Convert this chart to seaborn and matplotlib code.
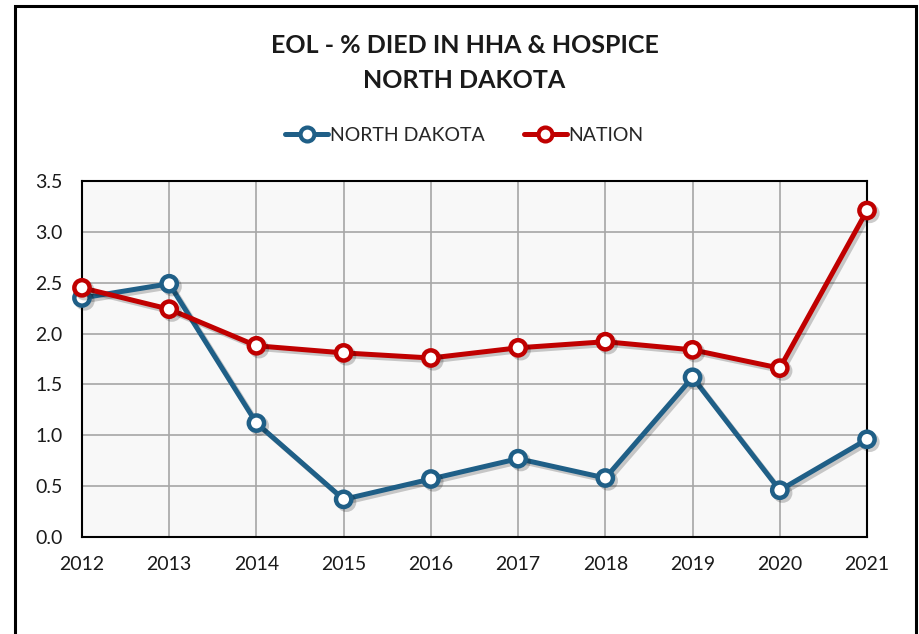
import matplotlib
matplotlib.use("Agg")
import matplotlib.pyplot as plt
import matplotlib.patheffects as pe
from matplotlib.patches import Rectangle
import pandas as pd
import seaborn as sns

years = [2012, 2013, 2014, 2015, 2016, 2017, 2018, 2019, 2020, 2021]
north_dakota = [2.35, 2.49, 1.12, 0.37, 0.57, 0.77, 0.58, 1.57, 0.46, 0.96]
nation = [2.45, 2.24, 1.88, 1.81, 1.76, 1.86, 1.92, 1.84, 1.66, 3.21]
series_names = ["NORTH DAKOTA", "NATION"]
y_ticks = [0.0, 0.5, 1.0, 1.5, 2.0, 2.5, 3.0, 3.5]

df = pd.DataFrame({
    "year": years * 2,
    "value": north_dakota + nation,
    "series": [series_names[0]] * len(years) + [series_names[1]] * len(years),
})

sns.set_style("white")
plt.rcParams["font.family"] = ["Lato", "DejaVu Sans"]

fig = plt.figure(figsize=(9.2, 6.34), dpi=100)
ax = fig.add_axes([0.0891, 0.153, 0.8533, 0.5615])
ax.set_facecolor("#f8f8f8")

palette = {"NORTH DAKOTA": "#1f5f87", "NATION": "#c00000"}
sns.lineplot(data=df, x="year", y="value", hue="series", palette=palette,
             marker="o", markersize=11, markerfacecolor="white",
             markeredgewidth=3.2, linewidth=3.6, ax=ax, legend=False,
             zorder=5)

# soft drop shadow like the spreadsheet chart
shadow = [pe.SimpleLineShadow(offset=(2, -2), shadow_color="black", alpha=0.2),
          pe.Normal()]
for line in ax.lines:
    line.set_clip_on(False)
    line.set_markeredgecolor(line.get_color())
    line.set_path_effects(shadow)

ax.set_xlim(2012, 2021)
ax.set_ylim(0, 3.5)
ax.set_xticks(years)
ax.set_xticklabels([str(y) for y in years])
ax.set_yticks(y_ticks)
ax.set_yticklabels([f"{t:.1f}" for t in y_ticks])
ax.grid(True, color="#a6a6a6", linewidth=1.2)
ax.set_axisbelow(True)
ax.tick_params(axis="both", length=0, labelsize=14, colors="#1a1a1a")
ax.tick_params(axis="y", pad=14)
ax.tick_params(axis="x", pad=14)
for s in ax.spines.values():
    s.set_visible(True)
    s.set_color("black")
    s.set_linewidth(1.5)
ax.set_xlabel("")
ax.set_ylabel("")

fig.text(0.505, 0.928, "EOL - % DIED IN HHA & HOSPICE", ha="center", va="center",
         fontsize=18, fontweight="bold", color="#1a1a1a")
fig.text(0.505, 0.873, "NORTH DAKOTA", ha="center", va="center",
         fontsize=18, fontweight="bold", color="#1a1a1a")

handles = [plt.Line2D([], [], color=palette[n], linewidth=3.6, marker="o",
                      markersize=10, markerfacecolor="white",
                      markeredgewidth=3, markeredgecolor=palette[n])
           for n in series_names]
fig.legend(handles, series_names, loc="center", bbox_to_anchor=(0.505, 0.787),
           ncol=2, frameon=False, fontsize=14, handlelength=2.2,
           handletextpad=0.1, columnspacing=2.0)

# outer frame (bottom edge runs off the image)
fig.patches.append(Rectangle((0.0163, -0.05), 0.9793, 1.04, transform=fig.transFigure,
                             fill=False, edgecolor="black", linewidth=2.2))

fig.savefig("out.png", dpi=100)
